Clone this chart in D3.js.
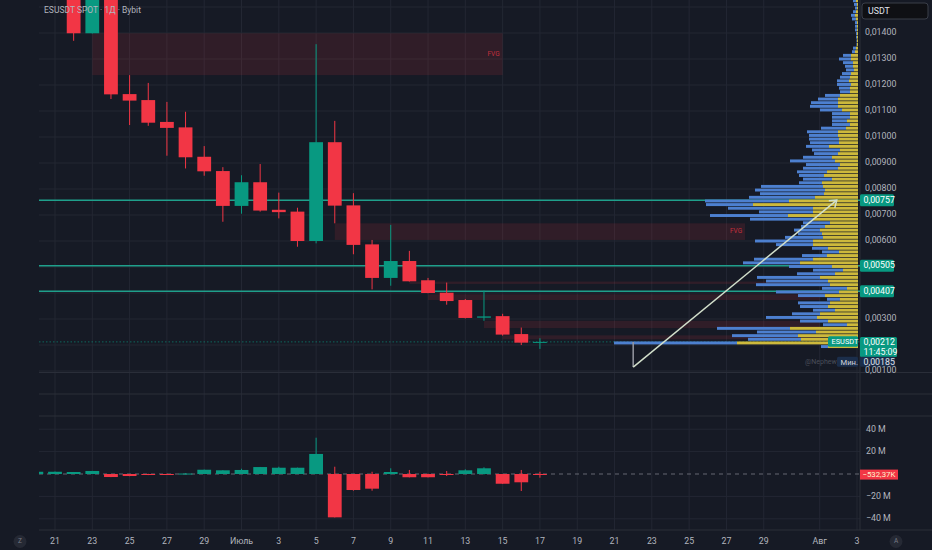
<!DOCTYPE html>
<html>
<head>
<meta charset="utf-8">
<script src="https://cdn.jsdelivr.net/npm/d3@7"></script>
<style>
  body { margin: 0; background: #161a25; }
  svg { display: block; }
  text { font-family: Roboto, "Noto Sans", sans-serif; }
</style>
</head>
<body>
<div id="chart"></div>
<script>
// daily candles, ESUSDT spot
var days = ["2025-06-20","2025-06-21","2025-06-22","2025-06-23","2025-06-24","2025-06-25","2025-06-26",
            "2025-06-27","2025-06-28","2025-06-29","2025-06-30","2025-07-01","2025-07-02","2025-07-03",
            "2025-07-04","2025-07-05","2025-07-06","2025-07-07","2025-07-08","2025-07-09","2025-07-10",
            "2025-07-11","2025-07-12","2025-07-13","2025-07-14","2025-07-15","2025-07-16","2025-07-17"];
var opens  = [0.0180,0.0172,0.0165,0.01399,0.0158,0.01165,0.01142,0.01058,0.01037,0.00924,0.00869,0.00735,0.00826,0.00720,
              0.00713,0.00600,0.00980,0.00737,0.00587,0.00458,0.00523,0.00449,0.00401,0.00373,0.00305,0.00311,0.00242,0.00209];
var highs  = [0.0190,0.0178,0.0168,0.0163,0.0160,0.01238,0.01208,0.01135,0.01097,0.00965,0.00884,0.00853,0.00896,0.00786,
              0.00728,0.01357,0.01062,0.00784,0.00604,0.00662,0.00562,0.00458,0.00440,0.00377,0.00409,0.00320,0.00267,0.00226];
var lows   = [0.0168,0.0160,0.01370,0.01398,0.01146,0.01046,0.01043,0.00928,0.00879,0.00851,0.00674,0.00705,0.00713,0.00687,
              0.00578,0.00591,0.00668,0.00549,0.00414,0.00428,0.00444,0.00399,0.00355,0.00302,0.00293,0.00236,0.00200,0.00185];
var closes = [0.0172,0.0165,0.01399,0.0158,0.01164,0.01140,0.01055,0.01035,0.00922,0.00868,0.00735,0.00826,0.00717,0.00711,
              0.00600,0.00980,0.00736,0.00585,0.00458,0.00523,0.00445,0.00400,0.00369,0.00304,0.00310,0.00240,0.00209,0.00212];

// volume delta pane (millions), each bar opens at 0
var deltaClose = [2.0,2.0,1.8,2.7,-2.7,-1.8,-0.9,-0.4,0.4,3.8,3.3,3.6,6.2,5.6,5.6,17.9,-38.7,-14.3,-13.1,1.8,-2.9,-2.9,-0.9,3.3,5.1,-8.7,-7.4,-0.53];
var deltaHigh  = [2.0,2.2,1.8,2.8,0,0,0.2,0.3,0.8,3.9,3.4,4.7,6.3,6.5,5.7,32.4,6.5,0,2.0,5.1,3.6,0.3,2.7,4.2,6.0,0,3.6,2.0];
var deltaLow   = [0,-0.2,0,0,-2.8,-2.0,-1.0,-0.6,-0.3,0,0,0,0,0,0,0,-38.8,-14.9,-14.9,-0.5,-3.0,-3.0,-1.8,0,-0.5,-8.8,-15.2,-3.3];

var priceTicks = [0.001,0.002,0.003,0.004,0.005,0.006,0.007,0.008,0.009,0.010,0.011,0.012,0.013,0.014,0.015];
var deltaTicks = [-40,-20,20,40];
var deltaTickLabels = ["\u221240 M","\u221220 M","20 M","40 M"];
var timeTicks = ["2025-06-21","2025-06-23","2025-06-25","2025-06-27","2025-06-29","2025-07-01","2025-07-03","2025-07-05",
                 "2025-07-07","2025-07-09","2025-07-11","2025-07-13","2025-07-15","2025-07-17","2025-07-19","2025-07-21",
                 "2025-07-23","2025-07-25","2025-07-27","2025-07-29","2025-08-01","2025-08-03"];
var timeTickLabels = ["21","23","25","27","29","Июль","3","5","7","9","11","13","15","17","19","21","23","25","27","29","Авг","3"];

// horizontal levels
var levels = [0.00757, 0.00505, 0.00407];
var lastPrice = 0.00212, minPrice = 0.00185;

// fair value gaps
var fvgStart  = ["2025-06-23","2025-07-06","2025-07-10","2025-07-11","2025-07-14","2025-07-15"];
var fvgEnd    = ["2025-07-15","2025-07-28","2025-08-01","2025-08-01","2025-08-01","2025-08-01"];
var fvgTop    = [0.01399,0.00668,0.00444,0.00395,0.00293,0.00237];
var fvgBottom = [0.01238,0.00604,0.00435,0.00373,0.00265,0.00222];
var fvgLabel  = ["FVG","FVG","","","",""];

// visible range volume profile, rows from 0.00187 upwards
var profileBase = 0.00187, profileStep = 0.00014;
var profileYellow = [30,121,57,60,42,68,11,30,41,38,23,30,28,18,33,19,11,28,30,38,23,15,26,58,45,31,19,30,45,45,
                     35,36,38,33,28,45,70,45,45,105,69,43,34,33,35,36,26,34,31,20,18,23,26,20,18,29,19,19,20,20,
                     12,8,11,8,8,16,20,20,20,18,8,8,7,9,8,7,4,5,5,7,7,3,2,1,1,1,1,1,1,1,2,3,2,1,1,2];
var profileBlue   = [7,123,53,66,59,73,24,28,51,28,22,28,32,13,27,63,25,74,62,63,38,30,43,57,59,25,17,16,37,58,
                     38,24,26,24,27,63,78,54,85,47,84,66,64,70,62,23,29,25,30,35,34,45,29,24,28,23,29,30,29,31,
                     25,18,15,18,18,22,28,27,20,15,10,11,14,12,10,9,8,8,10,12,8,3,3,0.5,0.5,1,1,2,2,2,4,4,3,2,3,3];

// drawn arrow (date, price)
var arrowDates  = ["2025-07-22T00:00","2025-07-22T00:00","2025-08-01T22:00"];
var arrowPrices = [0.00212, 0.00115, 0.00757];

var width = 932, height = 550;
var plotLeft = 39, plotRight = 860;
var mainBottom = 372.5, lowTop = 416, lowBottom = 530;
var bg = "#161a25", grid = "#232733", sep = "#2a2e39", axisText = "#b2b5be";
var up = "#089981", down = "#f23645";

var parseDay = d3.utcParse("%Y-%m-%d");
var parseTime = d3.utcParse("%Y-%m-%dT%H:%M");

var x = d3.scaleUtc().domain([parseDay("2025-06-21"), parseDay("2025-08-03")]).range([55, 857]);
var y = d3.scaleLinear().domain([0.001, 0.014]).range([371, 33]);
var yd = d3.scaleLinear().domain([-40, 40]).range([518.8, 429.2]);
var vol = d3.scaleLinear().domain([0, 244]).range([0, 244]);

var dayPx = x(parseDay("2025-06-22")) - x(parseDay("2025-06-21"));
var bodyW = dayPx * 0.74;
var fmt = function(p) { return d3.format(".5f")(p).replace(".", ","); };

var svg = d3.select("#chart").append("svg")
    .attr("width", width)
    .attr("height", height);

svg.append("rect").attr("width", width).attr("height", height).attr("fill", bg);

var defs = svg.append("defs");
defs.append("clipPath").attr("id", "clipMain").append("rect")
    .attr("x", plotLeft).attr("y", 0).attr("width", plotRight - plotLeft).attr("height", mainBottom);
defs.append("clipPath").attr("id", "clipLow").append("rect")
    .attr("x", plotLeft).attr("y", lowTop).attr("width", plotRight - plotLeft).attr("height", lowBottom - lowTop);

// grid
var gridG = svg.append("g");
gridG.selectAll(".vgrid").data(timeTicks).enter().append("line")
    .attr("x1", function(d) { return x(parseDay(d)); })
    .attr("x2", function(d) { return x(parseDay(d)); })
    .attr("y1", 0).attr("y2", lowBottom)
    .attr("stroke", grid).attr("stroke-width", 1);
gridG.selectAll(".hgrid").data(priceTicks).enter().append("line")
    .attr("x1", plotLeft).attr("x2", plotRight)
    .attr("y1", function(d) { return y(d); }).attr("y2", function(d) { return y(d); })
    .attr("stroke", grid).attr("stroke-width", 1);
gridG.selectAll(".dgrid").data(deltaTicks).enter().append("line")
    .attr("x1", plotLeft).attr("x2", plotRight)
    .attr("y1", function(d) { return yd(d); }).attr("y2", function(d) { return yd(d); })
    .attr("stroke", grid).attr("stroke-width", 1);

// pane separators
[mainBottom, 394, lowTop, lowBottom].forEach(function(s) {
    svg.append("line").attr("x1", plotLeft).attr("x2", width).attr("y1", s).attr("y2", s)
        .attr("stroke", sep).attr("stroke-width", 1.2);
});
svg.append("line").attr("x1", plotRight).attr("x2", plotRight).attr("y1", 0).attr("y2", lowBottom)
    .attr("stroke", sep).attr("stroke-width", 1);

// ---- main pane ----
var main = svg.append("g").attr("clip-path", "url(#clipMain)");

main.selectAll(".fvg").data(fvgStart).enter().append("rect")
    .attr("x", function(d) { return x(parseDay(d)); })
    .attr("width", function(d, i) { return x(parseDay(fvgEnd[i])) - x(parseDay(d)); })
    .attr("y", function(d, i) { return y(fvgTop[i]); })
    .attr("height", function(d, i) { return y(fvgBottom[i]) - y(fvgTop[i]); })
    .attr("fill", down).attr("fill-opacity", 0.12);
main.selectAll(".fvgText").data(fvgLabel).enter().append("text")
    .attr("x", function(d, i) { return x(parseDay(fvgEnd[i])) - 3; })
    .attr("y", function(d, i) { return (y(fvgTop[i]) + y(fvgBottom[i])) / 2; })
    .attr("text-anchor", "end").attr("dominant-baseline", "middle")
    .attr("font-size", 6.5).attr("fill", down).attr("fill-opacity", 0.75)
    .text(function(d) { return d; });

main.selectAll(".level").data(levels).enter().append("line")
    .attr("x1", plotLeft).attr("x2", plotRight)
    .attr("y1", function(d) { return y(d); }).attr("y2", function(d) { return y(d); })
    .attr("stroke", "#1f9f8b").attr("stroke-width", 1.5);

main.append("line")
    .attr("x1", plotLeft).attr("x2", plotRight)
    .attr("y1", y(lastPrice)).attr("y2", y(lastPrice))
    .attr("stroke", up).attr("stroke-opacity", 0.6).attr("stroke-dasharray", "1.5,2");

var candles = main.selectAll(".candle").data(days).enter().append("g");
candles.append("line")
    .attr("x1", function(d) { return x(parseDay(d)); })
    .attr("x2", function(d) { return x(parseDay(d)); })
    .attr("y1", function(d, i) { return y(highs[i]); })
    .attr("y2", function(d, i) { return y(lows[i]); })
    .attr("stroke", function(d, i) { return closes[i] >= opens[i] ? up : down; })
    .attr("stroke-width", 1);
candles.append("rect")
    .attr("x", function(d) { return x(parseDay(d)) - bodyW / 2; })
    .attr("width", bodyW)
    .attr("y", function(d, i) { return y(Math.max(opens[i], closes[i])); })
    .attr("height", function(d, i) { return Math.max(1, Math.abs(y(opens[i]) - y(closes[i]))); })
    .attr("fill", function(d, i) { return closes[i] >= opens[i] ? up : down; });

// volume profile on the right edge
var rowH = y(profileBase) - y(profileBase + profileStep);
var prof = main.append("g");
prof.selectAll(".py").data(profileYellow).enter().append("rect")
    .attr("x", function(d) { return plotRight - 2 - vol(d); })
    .attr("width", function(d) { return vol(d); })
    .attr("y", function(d, i) { return y(profileBase + (i + 1) * profileStep) + 0.35; })
    .attr("height", rowH - 0.7)
    .attr("fill", "#cdb93c");
prof.selectAll(".pb").data(profileBlue).enter().append("rect")
    .attr("x", function(d, i) { return plotRight - 2 - vol(profileYellow[i]) - vol(d); })
    .attr("width", function(d) { return vol(d); })
    .attr("y", function(d, i) { return y(profileBase + (i + 1) * profileStep) + 0.35; })
    .attr("height", rowH - 0.7)
    .attr("fill", "#4d80d0");

// arrow drawing
var ap = arrowDates.map(function(d, i) { return [x(parseTime(d)), y(arrowPrices[i])]; });
main.append("line").attr("x1", ap[0][0]).attr("y1", ap[0][1]).attr("x2", ap[1][0]).attr("y2", ap[1][1])
    .attr("stroke", "#9598a1").attr("stroke-width", 1.5);
main.append("line").attr("x1", ap[1][0]).attr("y1", ap[1][1]).attr("x2", ap[2][0]).attr("y2", ap[2][1])
    .attr("stroke", "#d2dfcb").attr("stroke-width", 1.5);
var ang = Math.atan2(ap[2][1] - ap[1][1], ap[2][0] - ap[1][0]);
var head = [ang + Math.PI * 0.8, ang - Math.PI * 0.8].map(function(a) {
    return [ap[2][0] + 8 * Math.cos(a), ap[2][1] + 8 * Math.sin(a)];
});
main.append("path")
    .attr("d", "M" + head[0] + "L" + ap[2] + "L" + head[1])
    .attr("fill", "none").attr("stroke", "#d2dfcb").attr("stroke-width", 1.5);

main.append("text").attr("x", 805).attr("y", 362).attr("font-size", 7).attr("fill", "#4a4e5a")
    .attr("dominant-baseline", "middle").text("@Nephew_");

svg.append("text").attr("x", 44).attr("y", 11).attr("font-size", 8.5).attr("fill", axisText)
    .attr("dominant-baseline", "middle").text("ESUSDT SPOT · 1Д · Bybit");

// ---- delta pane ----
var low = svg.append("g").attr("clip-path", "url(#clipLow)");
low.append("line").attr("x1", plotLeft).attr("x2", plotRight).attr("y1", yd(0)).attr("y2", yd(0))
    .attr("stroke", "#787b86").attr("stroke-opacity", 0.8).attr("stroke-dasharray", "4,4");
var bars = low.selectAll(".dbar").data(days).enter().append("g");
bars.append("line")
    .attr("x1", function(d) { return x(parseDay(d)); })
    .attr("x2", function(d) { return x(parseDay(d)); })
    .attr("y1", function(d, i) { return yd(deltaHigh[i]); })
    .attr("y2", function(d, i) { return yd(deltaLow[i]); })
    .attr("stroke", function(d, i) { return deltaClose[i] >= 0 ? up : down; });
bars.append("rect")
    .attr("x", function(d) { return x(parseDay(d)) - bodyW / 2; })
    .attr("width", bodyW)
    .attr("y", function(d, i) { return yd(Math.max(0, deltaClose[i])); })
    .attr("height", function(d, i) { return Math.max(1, Math.abs(yd(deltaClose[i]) - yd(0))); })
    .attr("fill", function(d, i) { return deltaClose[i] >= 0 ? up : down; });

// ---- price axis ----
var tagBoxes = [];
function tag(yc, h, x0, w, fill, lines, color, fs) {
    svg.append("rect").attr("x", x0).attr("y", yc - h / 2).attr("width", w).attr("height", h)
        .attr("rx", 1.5).attr("fill", fill);
    lines.forEach(function(t, k) {
        svg.append("text").attr("x", x0 + 3.5).attr("y", yc - h / 2 + 6 + k * 9.5)
            .attr("dominant-baseline", "middle").attr("font-size", fs || 8.8).attr("fill", color).text(t);
    });
    if (x0 >= plotRight) tagBoxes.push([yc - h / 2, yc + h / 2]);
}

// currency box
svg.append("rect").attr("x", 862).attr("y", 3).attr("width", 66).attr("height", 16).attr("rx", 3)
    .attr("fill", "#0f1014").attr("stroke", "#3a3e49");
svg.append("text").attr("x", 868).attr("y", 11.5).attr("dominant-baseline", "middle")
    .attr("font-size", 8.8).attr("fill", "#e0e3eb").text("USDT");
tagBoxes.push([3, 19]);

levels.forEach(function(l) { tag(y(l), 12, plotRight, 34, up, [fmt(l)], "#ffffff"); });
tag(y(lastPrice) + 5, 20, plotRight, 37, up, [fmt(lastPrice), "11:45:09"], "#ffffff");
tag(y(lastPrice) - 0.5, 10.5, 828, 30, up, ["ESUSDT"], "#ffffff", 7.4);
tag(361.7, 10, 860, 35, "#1b2e4b", [fmt(minPrice)], "#e0e3eb");
tag(361.7, 10, 837, 21, "#1b2e4b", ["Мин."], "#d1d4dc", 7.6);

svg.selectAll(".ptick").data(priceTicks.filter(function(p) {
        var yy = y(p);
        return !tagBoxes.some(function(b) { return yy + 4 > b[0] && yy - 4 < b[1]; });
    })).enter().append("text")
    .attr("x", 865).attr("y", function(d) { return y(d); })
    .attr("dominant-baseline", "middle").attr("font-size", 8.8).attr("fill", axisText)
    .text(fmt);

svg.selectAll(".dtick").data(deltaTicks).enter().append("text")
    .attr("x", 866).attr("y", function(d) { return yd(d); })
    .attr("dominant-baseline", "middle").attr("font-size", 8.8).attr("fill", axisText)
    .text(function(d, i) { return deltaTickLabels[i]; });

var lastDelta = deltaClose[deltaClose.length - 1];
svg.append("rect").attr("x", 860).attr("y", yd(lastDelta) - 5).attr("width", 38).attr("height", 10)
    .attr("fill", down);
svg.append("text").attr("x", 862.5).attr("y", yd(lastDelta)).attr("dominant-baseline", "middle")
    .attr("font-size", 7.8).attr("fill", "#fdf3cf").text("\u2212532,37K");

// ---- time axis ----
svg.selectAll(".ttick").data(timeTicks).enter().append("text")
    .attr("x", function(d) { return x(parseDay(d)); })
    .attr("y", 541.5).attr("text-anchor", "middle").attr("dominant-baseline", "middle")
    .attr("font-size", 8.8).attr("fill", axisText)
    .text(function(d, i) { return timeTickLabels[i]; });

[[20, "Z"], [896, "A"]].forEach(function(b) {
    svg.append("circle").attr("cx", b[0]).attr("cy", 541.5).attr("r", 6.5).attr("fill", "#252934");
    svg.append("text").attr("x", b[0]).attr("y", 541.5).attr("text-anchor", "middle")
        .attr("dominant-baseline", "middle").attr("font-size", 6.5).attr("fill", "#787b86").text(b[1]);
});
</script>
</body>
</html>
